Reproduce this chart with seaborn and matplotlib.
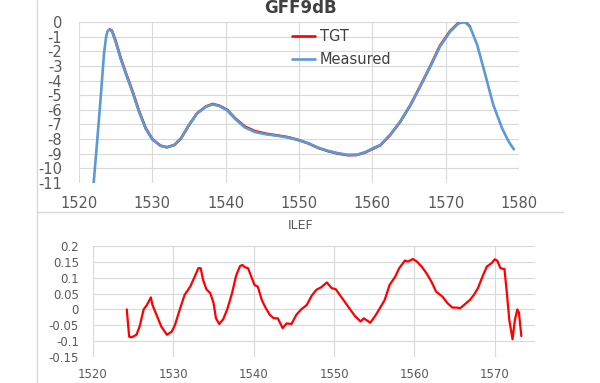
import numpy as np
import pandas as pd
import seaborn as sns
import matplotlib
matplotlib.use("Agg")
import matplotlib.pyplot as plt
from matplotlib.lines import Line2D

# GFF9dB - measured curve (nm, dB)
meas_wl = [1522.0, 1522.5, 1523.0, 1523.4, 1523.7, 1523.9, 1524.2, 1524.5, 1525.0, 1525.7, 1526.4,
           1527.3, 1528.2, 1529.1, 1530.0, 1531.1, 1532.0, 1533.0, 1533.9, 1535.0, 1536.1,
           1537.3, 1538.2, 1539.1, 1540.2, 1541.3, 1542.6, 1544.0, 1545.6, 1547.2, 1548.6,
           1549.9, 1551.3, 1552.6, 1554.0, 1555.4, 1556.7, 1557.9, 1559.0, 1560.2, 1561.1,
           1562.4, 1563.8, 1565.2, 1566.5, 1567.9, 1569.2, 1570.6, 1571.7, 1572.2, 1572.7, 1573.3,
           1574.3, 1575.4, 1576.5, 1577.7, 1578.6, 1579.3]
meas_db = [-11.0, -8.0, -4.9, -2.2, -1.0, -0.62, -0.5, -0.65, -1.35, -2.55, -3.55,
           -4.8, -6.15, -7.3, -8.02, -8.45, -8.56, -8.4, -7.95, -7.04, -6.24,
           -5.79, -5.63, -5.73, -6.03, -6.62, -7.2, -7.52, -7.68, -7.78, -7.9,
           -8.06, -8.29, -8.59, -8.81, -8.97, -9.08, -9.08, -8.9, -8.6, -8.4,
           -7.72, -6.81, -5.67, -4.42, -3.05, -1.69, -0.66, -0.12, -0.02, -0.03, -0.3,
           -1.57, -3.6, -5.67, -7.27, -8.18, -8.7]

# target curve
tgt_wl = [1524.2, 1524.5, 1525.0, 1525.7, 1526.4, 1527.3, 1528.2, 1529.1, 1530.0, 1531.1,
          1532.0, 1533.0, 1533.9, 1535.0, 1536.1, 1537.3, 1538.2, 1539.1, 1540.2, 1541.3,
          1542.6, 1544.0, 1545.6, 1547.2, 1548.6, 1549.9, 1551.3, 1552.6, 1554.0, 1555.4,
          1556.7, 1557.9, 1559.0, 1560.2, 1561.1, 1562.4, 1563.8, 1565.2, 1566.5, 1567.9,
          1569.2, 1570.6, 1571.7, 1572.2, 1572.7, 1573.3]
tgt_db = [-0.5, -0.6, -1.3, -2.48, -3.5, -4.74, -6.1, -7.26, -8.0, -8.45,
          -8.56, -8.4, -7.96, -7.04, -6.24, -5.78, -5.6, -5.71, -6.0, -6.58,
          -7.14, -7.46, -7.64, -7.76, -7.88, -8.06, -8.3, -8.6, -8.83, -9.0,
          -9.1, -9.08, -8.92, -8.63, -8.42, -7.74, -6.82, -5.67, -4.41, -3.02,
          -1.64, -0.62, -0.08, 0.0, 0.0, -0.3]

# ILEF (nm, dB)
ilef_wl = [1524.2, 1524.5, 1524.8, 1525.4, 1525.8, 1526.3, 1526.7, 1527.2, 1527.4, 1527.9,
           1528.5, 1529.2, 1529.8, 1530.2, 1530.8, 1531.4, 1532.1, 1532.7, 1533.1, 1533.4,
           1533.7, 1534.1, 1534.6, 1535.0, 1535.3, 1535.7, 1536.2, 1536.7, 1537.3, 1537.8,
           1538.3, 1538.6, 1538.9, 1539.3, 1539.7, 1540.1, 1540.5, 1541.0, 1541.5, 1542.0,
           1542.5, 1543.0, 1543.6, 1544.1, 1544.7, 1545.3, 1545.9, 1546.6, 1547.2, 1547.8,
           1548.4, 1549.1, 1549.7, 1550.2, 1550.7, 1551.3, 1552.0, 1552.6, 1553.3, 1553.7,
           1554.5, 1555.1, 1555.7, 1556.3, 1556.9, 1557.6, 1558.1, 1558.4, 1558.8, 1559.2,
           1559.8, 1560.3, 1560.9, 1561.5, 1562.1, 1562.7, 1563.5, 1564.1, 1564.7, 1565.2,
           1565.7, 1566.3, 1566.9, 1567.4, 1567.9, 1568.5, 1569.0, 1569.6, 1570.0, 1570.3,
           1570.7, 1571.2, 1571.5, 1571.8, 1572.2, 1572.5, 1572.8, 1573.0, 1573.3]
ilef_db = [0.0, -0.086, -0.088, -0.08, -0.054, 0.0, 0.014, 0.038, 0.014, -0.017,
           -0.054, -0.08, -0.07, -0.049, 0.0, 0.046, 0.072, 0.106, 0.130, 0.130,
           0.093, 0.064, 0.051, 0.02, -0.028, -0.046, -0.031, 0.0, 0.051, 0.106,
           0.137, 0.140, 0.133, 0.130, 0.103, 0.077, 0.072, 0.030, 0.004, -0.017,
           -0.028, -0.028, -0.059, -0.044, -0.046, -0.017, 0.0, 0.014, 0.043, 0.062,
           0.070, 0.085, 0.067, 0.064, 0.046, 0.025, 0.0, -0.021, -0.038, -0.028,
           -0.042, -0.021, 0.004, 0.030, 0.077, 0.103, 0.130, 0.140, 0.154, 0.151,
           0.159, 0.151, 0.135, 0.114, 0.088, 0.056, 0.040, 0.020, 0.006, 0.006,
           0.004, 0.017, 0.030, 0.046, 0.067, 0.106, 0.135, 0.146, 0.158, 0.154,
           0.130, 0.127, 0.051, -0.033, -0.094, -0.033, 0.0, -0.01, -0.084]

meas = pd.DataFrame({"wl": meas_wl, "db": meas_db})
tgt = pd.DataFrame({"wl": tgt_wl, "db": tgt_db})
ilef = pd.DataFrame({"wl": ilef_wl, "db": ilef_db})

sns.set_style("white")
plt.rcParams['font.family'] = ['DejaVu Sans']
plt.rcParams['axes.unicode_minus'] = False

W, H = 600, 383
fig = plt.figure(figsize=(6, 3.83), dpi=100)
grid_c = "#D9D9D9"
txt_c = "#595959"
red = "#FF0000"
blue = "#5B9BD5"

# top chart
ax1 = fig.add_axes([79 / W, 1 - 183 / H, 440 / W, 161 / H])
sns.lineplot(data=tgt, x="wl", y="db", ax=ax1, color=red, lw=1.9, label="TGT", sort=False)
sns.lineplot(data=meas, x="wl", y="db", ax=ax1, color=blue, lw=1.9, label="Measured", sort=False)
ax1.set_xlim(1520, 1580)
ax1.set_ylim(-11, 0)
ax1.set_xticks(np.arange(1520, 1581, 10))
ax1.set_yticks(np.arange(-11, 1, 1))
ax1.grid(True, color=grid_c, lw=0.8)
ax1.set_axisbelow(True)
for s in ax1.spines.values():
    s.set_visible(False)
ax1.tick_params(axis="y", length=0, pad=12, labelsize=10.5, labelcolor=txt_c)
ax1.tick_params(axis="x", length=0, pad=9, labelsize=10.5, labelcolor=txt_c)
ax1.set_xlabel("")
ax1.set_ylabel("")
fig.text(300 / W, 1 - 8 / H, "GFF9dB", ha="center", va="center", fontsize=12,
         fontweight="bold", color="#404040")
ax1.legend(loc="upper left", bbox_to_anchor=(292 / W, 1 - 29 / H), bbox_transform=fig.transFigure,
           frameon=False, fontsize=10.5, handlelength=1.6, handletextpad=0.3,
           labelspacing=0.55, borderpad=0, borderaxespad=0, labelcolor="#404040")

# bottom chart
ax2 = fig.add_axes([93 / W, 1 - 357 / H, 442 / W, 111 / H])
sns.lineplot(data=ilef, x="wl", y="db", ax=ax2, color=red, lw=1.6, sort=False)
ax2.set_xlim(1520, 1575)
ax2.set_ylim(-0.15, 0.2)
ax2.set_xticks(np.arange(1520, 1571, 10))
yt = [0.2, 0.15, 0.1, 0.05, 0, -0.05, -0.1, -0.15]
ax2.set_yticks(yt)
ax2.set_yticklabels(["0.2", "0.15", "0.1", "0.05", "0", "-0.05", "-0.1", "-0.15"])
ax2.grid(True, color=grid_c, lw=0.8)
ax2.set_axisbelow(True)
for s in ax2.spines.values():
    s.set_visible(False)
ax2.tick_params(axis="y", length=0, pad=10, labelsize=8.5, labelcolor=txt_c)
ax2.tick_params(axis="x", length=0, pad=8, labelsize=8.5, labelcolor=txt_c)
ax2.set_xlabel("")
ax2.set_ylabel("")
fig.text(301 / W, 1 - 225 / H, "ILEF", ha="center", va="center", fontsize=9, color=txt_c)

# frame lines
fig.add_artist(Line2D([37 / W, 37 / W], [0, 1], transform=fig.transFigure, color=grid_c, lw=1))
fig.add_artist(Line2D([37 / W, 563 / W], [1 - 212 / H, 1 - 212 / H], transform=fig.transFigure,
                      color=grid_c, lw=1))

fig.savefig("out.png", dpi=100)
